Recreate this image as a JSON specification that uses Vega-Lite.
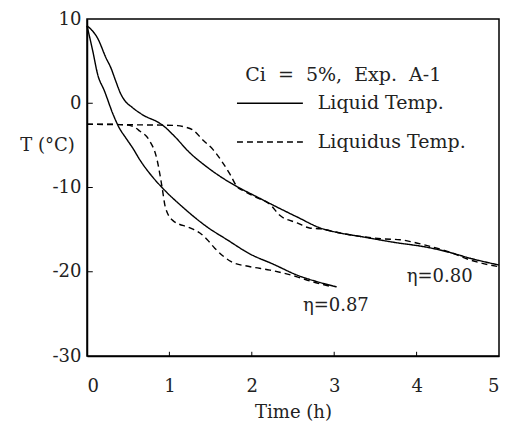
{
  "$schema": "https://vega.github.io/schema/vega-lite/v6.json",
  "width": 412,
  "height": 337,
  "autosize": "none",
  "padding": {"left": 87, "top": 19, "right": 7, "bottom": 72},
  "background": "white",
  "config": {
    "view": {"stroke": "black", "strokeWidth": 1.5},
    "font": "DejaVu Serif",
    "axis": {
      "grid": false,
      "ticks": false,
      "domainColor": "black",
      "domainWidth": 1.5,
      "labelFont": "DejaVu Serif",
      "labelFontSize": 18,
      "labelColor": "#222",
      "titleFont": "DejaVu Serif",
      "titleFontSize": 18,
      "titleFontWeight": "normal",
      "titleColor": "#222"
    }
  },
  "datasets": {
    "curves": [
      {"t": 0, "T": 9.2, "curve": "c87", "kind": "Liquid Temp."},
      {"t": 0.07, "T": 6.2, "curve": "c87", "kind": "Liquid Temp."},
      {"t": 0.13, "T": 3.4, "curve": "c87", "kind": "Liquid Temp."},
      {"t": 0.21, "T": 1.5, "curve": "c87", "kind": "Liquid Temp."},
      {"t": 0.32, "T": -1.4, "curve": "c87", "kind": "Liquid Temp."},
      {"t": 0.39, "T": -2.9, "curve": "c87", "kind": "Liquid Temp."},
      {"t": 0.47, "T": -4.1, "curve": "c87", "kind": "Liquid Temp."},
      {"t": 0.56, "T": -5.4, "curve": "c87", "kind": "Liquid Temp."},
      {"t": 0.64, "T": -6.7, "curve": "c87", "kind": "Liquid Temp."},
      {"t": 0.8, "T": -8.8, "curve": "c87", "kind": "Liquid Temp."},
      {"t": 0.92, "T": -10.1, "curve": "c87", "kind": "Liquid Temp."},
      {"t": 1.17, "T": -12.4, "curve": "c87", "kind": "Liquid Temp."},
      {"t": 1.46, "T": -14.7, "curve": "c87", "kind": "Liquid Temp."},
      {"t": 1.7, "T": -16.2, "curve": "c87", "kind": "Liquid Temp."},
      {"t": 1.98, "T": -17.9, "curve": "c87", "kind": "Liquid Temp."},
      {"t": 2.26, "T": -19.1, "curve": "c87", "kind": "Liquid Temp."},
      {"t": 2.55, "T": -20.4, "curve": "c87", "kind": "Liquid Temp."},
      {"t": 2.8, "T": -21.2, "curve": "c87", "kind": "Liquid Temp."},
      {"t": 3.03, "T": -21.8, "curve": "c87", "kind": "Liquid Temp."},
      {"t": 0, "T": -2.5, "curve": "d87", "kind": "Liquidus Temp."},
      {"t": 0.3, "T": -2.5, "curve": "d87", "kind": "Liquidus Temp."},
      {"t": 0.5, "T": -2.6, "curve": "d87", "kind": "Liquidus Temp."},
      {"t": 0.57, "T": -2.8, "curve": "d87", "kind": "Liquidus Temp."},
      {"t": 0.64, "T": -3.3, "curve": "d87", "kind": "Liquidus Temp."},
      {"t": 0.75, "T": -4.3, "curve": "d87", "kind": "Liquidus Temp."},
      {"t": 0.85, "T": -6.7, "curve": "d87", "kind": "Liquidus Temp."},
      {"t": 0.91, "T": -9.9, "curve": "d87", "kind": "Liquidus Temp."},
      {"t": 0.95, "T": -12.3, "curve": "d87", "kind": "Liquidus Temp."},
      {"t": 1.04, "T": -13.9, "curve": "d87", "kind": "Liquidus Temp."},
      {"t": 1.25, "T": -14.8, "curve": "d87", "kind": "Liquidus Temp."},
      {"t": 1.37, "T": -15.4, "curve": "d87", "kind": "Liquidus Temp."},
      {"t": 1.46, "T": -16.2, "curve": "d87", "kind": "Liquidus Temp."},
      {"t": 1.55, "T": -17.2, "curve": "d87", "kind": "Liquidus Temp."},
      {"t": 1.75, "T": -18.8, "curve": "d87", "kind": "Liquidus Temp."},
      {"t": 1.98, "T": -19.4, "curve": "d87", "kind": "Liquidus Temp."},
      {"t": 2.22, "T": -19.8, "curve": "d87", "kind": "Liquidus Temp."},
      {"t": 2.55, "T": -20.6, "curve": "d87", "kind": "Liquidus Temp."},
      {"t": 2.74, "T": -21.2, "curve": "d87", "kind": "Liquidus Temp."},
      {"t": 2.9, "T": -21.6, "curve": "d87", "kind": "Liquidus Temp."},
      {"t": 2.98, "T": -21.8, "curve": "d87", "kind": "Liquidus Temp."},
      {"t": 0, "T": 9.2, "curve": "c80", "kind": "Liquid Temp."},
      {"t": 0.13, "T": 7.7, "curve": "c80", "kind": "Liquid Temp."},
      {"t": 0.23, "T": 5.4, "curve": "c80", "kind": "Liquid Temp."},
      {"t": 0.29, "T": 4.2, "curve": "c80", "kind": "Liquid Temp."},
      {"t": 0.35, "T": 2.6, "curve": "c80", "kind": "Liquid Temp."},
      {"t": 0.41, "T": 1.1, "curve": "c80", "kind": "Liquid Temp."},
      {"t": 0.46, "T": 0.3, "curve": "c80", "kind": "Liquid Temp."},
      {"t": 0.55, "T": -0.5, "curve": "c80", "kind": "Liquid Temp."},
      {"t": 0.68, "T": -1.4, "curve": "c80", "kind": "Liquid Temp."},
      {"t": 0.87, "T": -2.3, "curve": "c80", "kind": "Liquid Temp."},
      {"t": 0.93, "T": -2.7, "curve": "c80", "kind": "Liquid Temp."},
      {"t": 1.04, "T": -3.7, "curve": "c80", "kind": "Liquid Temp."},
      {"t": 1.25, "T": -5.9, "curve": "c80", "kind": "Liquid Temp."},
      {"t": 1.46, "T": -7.6, "curve": "c80", "kind": "Liquid Temp."},
      {"t": 1.65, "T": -8.9, "curve": "c80", "kind": "Liquid Temp."},
      {"t": 1.86, "T": -10.1, "curve": "c80", "kind": "Liquid Temp."},
      {"t": 2.06, "T": -11.1, "curve": "c80", "kind": "Liquid Temp."},
      {"t": 2.26, "T": -12.1, "curve": "c80", "kind": "Liquid Temp."},
      {"t": 2.55, "T": -13.5, "curve": "c80", "kind": "Liquid Temp."},
      {"t": 2.83, "T": -14.8, "curve": "c80", "kind": "Liquid Temp."},
      {"t": 3.07, "T": -15.4, "curve": "c80", "kind": "Liquid Temp."},
      {"t": 3.31, "T": -15.8, "curve": "c80", "kind": "Liquid Temp."},
      {"t": 3.72, "T": -16.5, "curve": "c80", "kind": "Liquid Temp."},
      {"t": 4.13, "T": -17.1, "curve": "c80", "kind": "Liquid Temp."},
      {"t": 4.4, "T": -17.7, "curve": "c80", "kind": "Liquid Temp."},
      {"t": 4.65, "T": -18.4, "curve": "c80", "kind": "Liquid Temp."},
      {"t": 5.0, "T": -19.2, "curve": "c80", "kind": "Liquid Temp."},
      {"t": 0, "T": -2.5, "curve": "d80", "kind": "Liquidus Temp."},
      {"t": 0.5, "T": -2.55, "curve": "d80", "kind": "Liquidus Temp."},
      {"t": 0.9, "T": -2.6, "curve": "d80", "kind": "Liquidus Temp."},
      {"t": 1.1, "T": -2.65, "curve": "d80", "kind": "Liquidus Temp."},
      {"t": 1.18, "T": -2.8, "curve": "d80", "kind": "Liquidus Temp."},
      {"t": 1.29, "T": -3.2, "curve": "d80", "kind": "Liquidus Temp."},
      {"t": 1.41, "T": -4.4, "curve": "d80", "kind": "Liquidus Temp."},
      {"t": 1.53, "T": -5.5, "curve": "d80", "kind": "Liquidus Temp."},
      {"t": 1.65, "T": -7.1, "curve": "d80", "kind": "Liquidus Temp."},
      {"t": 1.74, "T": -8.5, "curve": "d80", "kind": "Liquidus Temp."},
      {"t": 1.82, "T": -9.9, "curve": "d80", "kind": "Liquidus Temp."},
      {"t": 1.9, "T": -10.4, "curve": "d80", "kind": "Liquidus Temp."},
      {"t": 2.06, "T": -11.2, "curve": "d80", "kind": "Liquidus Temp."},
      {"t": 2.22, "T": -12.0, "curve": "d80", "kind": "Liquidus Temp."},
      {"t": 2.34, "T": -13.3, "curve": "d80", "kind": "Liquidus Temp."},
      {"t": 2.55, "T": -14.2, "curve": "d80", "kind": "Liquidus Temp."},
      {"t": 2.7, "T": -14.8, "curve": "d80", "kind": "Liquidus Temp."},
      {"t": 2.83, "T": -14.9, "curve": "d80", "kind": "Liquidus Temp."},
      {"t": 3.07, "T": -15.4, "curve": "d80", "kind": "Liquidus Temp."},
      {"t": 3.31, "T": -15.8, "curve": "d80", "kind": "Liquidus Temp."},
      {"t": 3.6, "T": -16.1, "curve": "d80", "kind": "Liquidus Temp."},
      {"t": 3.8, "T": -16.2, "curve": "d80", "kind": "Liquidus Temp."},
      {"t": 3.96, "T": -16.5, "curve": "d80", "kind": "Liquidus Temp."},
      {"t": 4.13, "T": -16.9, "curve": "d80", "kind": "Liquidus Temp."},
      {"t": 4.44, "T": -17.8, "curve": "d80", "kind": "Liquidus Temp."},
      {"t": 4.65, "T": -18.6, "curve": "d80", "kind": "Liquidus Temp."},
      {"t": 5.0, "T": -19.4, "curve": "d80", "kind": "Liquidus Temp."}
    ],
    "legendLines": [
      {"x1": 1.82, "x2": 2.62, "T": 0, "kind": "Liquid Temp."},
      {"x1": 1.82, "x2": 2.62, "T": -4.6, "kind": "Liquidus Temp."}
    ],
    "labels": [
      {"t": 1.92, "T": 3.35, "text": "Ci\u00a0 =\u00a0 5%,\u00a0 Exp.\u00a0 A-1"},
      {"t": 2.8, "T": 0, "text": "Liquid Temp."},
      {"t": 2.8, "T": -4.6, "text": "Liquidus Temp."}
    ],
    "etas": [
      {"t": 4.28, "T": -20.6, "text": "η=0.80"},
      {"t": 3.02, "T": -24.1, "text": "η=0.87"}
    ],
    "xticks": [
      {"t": 1, "y1": -30, "y2": -29.5},
      {"t": 2, "y1": -30, "y2": -29.5},
      {"t": 3, "y1": -30, "y2": -29.5},
      {"t": 4, "y1": -30, "y2": -29.5}
    ],
    "yticks": [
      {"x1": 0, "x2": 0.07, "T": -20},
      {"x1": 0, "x2": 0.07, "T": -10},
      {"x1": 0, "x2": 0.07, "T": 0}
    ]
  },
  "layer": [
    {
      "data": {"name": "curves"},
      "mark": {"type": "line", "color": "black", "strokeWidth": 1.4, "interpolate": "monotone"},
      "encoding": {
        "x": {
          "field": "t", "type": "quantitative",
          "scale": {"domain": [0, 5], "nice": false},
          "axis": {"values": [0, 1, 2, 3, 4, 5], "format": "d", "title": "Time (h)", "labelPadding": 21, "titleY": 56, "titleBaseline": "middle"}
        },
        "y": {
          "field": "T", "type": "quantitative",
          "scale": {"domain": [-30, 10], "nice": false},
          "axis": {
            "values": [-30, -20, -10, 0, 10],
            "labelExpr": "datum.value < 0 ? '-' + abs(datum.value) : '' + datum.value",
            "labelPadding": 6,
            "title": "T (°C)",
            "titleAngle": 0,
            "titleAlign": "center",
            "titleBaseline": "middle",
            "titleX": -40,
            "titleY": 126
          }
        },
        "detail": {"field": "curve"},
        "strokeDash": {
          "field": "kind", "type": "nominal",
          "scale": {"domain": ["Liquid Temp.", "Liquidus Temp."], "range": [[1, 0], [6, 4]]},
          "legend": null
        }
      }
    },
    {
      "data": {"name": "legendLines"},
      "mark": {"type": "rule", "color": "black", "strokeWidth": 1.4},
      "encoding": {
        "x": {"field": "x1", "type": "quantitative"},
        "x2": {"field": "x2"},
        "y": {"field": "T", "type": "quantitative"},
        "strokeDash": {
          "field": "kind", "type": "nominal",
          "scale": {"domain": ["Liquid Temp.", "Liquidus Temp."], "range": [[1, 0], [6, 4]]},
          "legend": null
        }
      }
    },
    {
      "data": {"name": "xticks"},
      "mark": {"type": "rule", "color": "black", "strokeWidth": 1},
      "encoding": {
        "x": {"field": "t", "type": "quantitative"},
        "y": {"field": "y1", "type": "quantitative"},
        "y2": {"field": "y2"}
      }
    },
    {
      "data": {"name": "yticks"},
      "mark": {"type": "rule", "color": "black", "strokeWidth": 1},
      "encoding": {
        "x": {"field": "x1", "type": "quantitative"},
        "x2": {"field": "x2"},
        "y": {"field": "T", "type": "quantitative"}
      }
    },
    {
      "data": {"name": "labels"},
      "mark": {"type": "text", "align": "left", "baseline": "middle", "fontSize": 19, "font": "DejaVu Serif", "color": "#222"},
      "encoding": {
        "x": {"field": "t", "type": "quantitative"},
        "y": {"field": "T", "type": "quantitative"},
        "text": {"field": "text"}
      }
    },
    {
      "data": {"name": "etas"},
      "mark": {"type": "text", "align": "center", "baseline": "middle", "fontSize": 18, "font": "DejaVu Serif", "color": "#222"},
      "encoding": {
        "x": {"field": "t", "type": "quantitative"},
        "y": {"field": "T", "type": "quantitative"},
        "text": {"field": "text"}
      }
    }
  ]
}
